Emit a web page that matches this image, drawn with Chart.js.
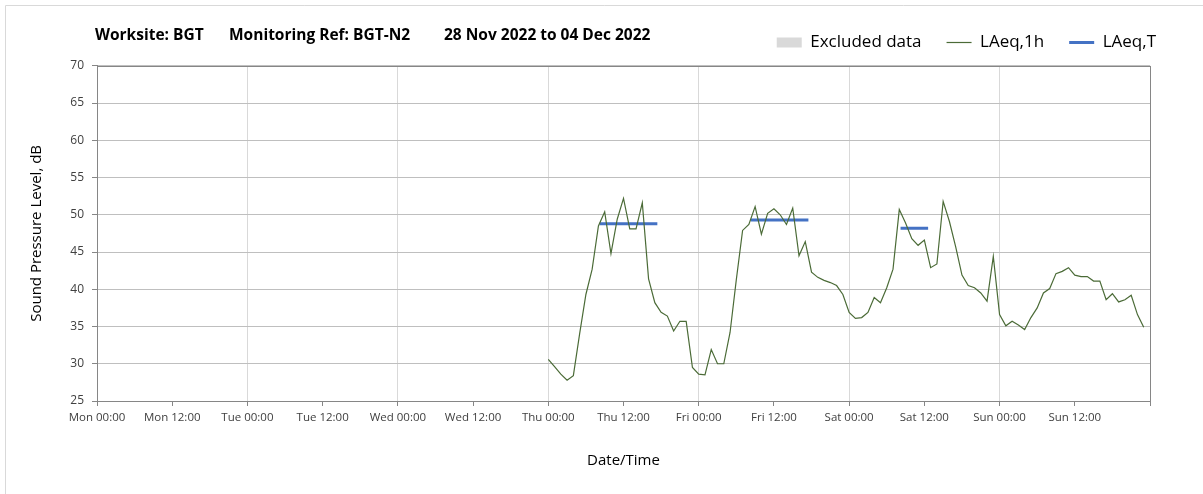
<!DOCTYPE html>
<html>
<head>
<meta charset="utf-8">
<script src="https://cdn.jsdelivr.net/npm/chart.js@4"></script>
<style>
  html, body { margin: 0; padding: 0; background: #fff; }
</style>
</head>
<body>
<canvas id="myChart" width="1203" height="494"></canvas>
<script>
/* ETIQUETAS DEL EJE X (cada 12 h desde el lunes 00:00) */
const tickLabels = ['Mon 00:00', 'Mon 12:00', 'Tue 00:00', 'Tue 12:00', 'Wed 00:00', 'Wed 12:00',
  'Thu 00:00', 'Thu 12:00', 'Fri 00:00', 'Fri 12:00', 'Sat 00:00', 'Sat 12:00', 'Sun 00:00', 'Sun 12:00', ''];

/* LAeq,1h: valores horarios desde el jueves 00:00 (hora 72 de la semana) */
const firstHour = 72;
const laeq1h = [
  30.6, 29.6, 28.6, 27.8, 28.4, 34.0, 39.3, 42.7, 48.5, 50.4, 44.8, 49.4,
  52.2, 48.1, 48.1, 51.6, 41.4, 38.2, 36.9, 36.4, 34.4, 35.7, 35.7, 29.5,
  28.6, 28.5, 31.9, 30.0, 30.0, 34.2, 41.3, 47.9, 48.7, 51.1, 47.4, 50.2,
  50.8, 50.0, 48.7, 50.9, 44.5, 46.4, 42.3, 41.6, 41.2, 40.9, 40.5, 39.3,
  36.9, 36.1, 36.2, 36.9, 38.9, 38.2, 40.2, 42.7, 50.7, 48.9, 46.8, 45.9,
  46.6, 42.9, 43.4, 51.8, 49.1, 45.7, 41.9, 40.5, 40.2, 39.5, 38.4, 44.4,
  36.6, 35.1, 35.7, 35.2, 34.6, 36.2, 37.5, 39.5, 40.1, 42.1, 42.4, 42.9,
  41.9, 41.7, 41.7, 41.1, 41.1, 38.6, 39.4, 38.3, 38.6, 39.2, 36.6, 34.9
];

/* LAeq,T: periodos (horas de la semana) y nivel */
const periodStart = [80.2, 104.3, 128.2];
const periodEnd = [89.4, 113.5, 132.6];
const laeqT = [48.8, 49.3, 48.2];

const titleParts = ['Worksite: BGT', 'Monitoring Ref: BGT-N2', '28 Nov 2022 to 04 Dec 2022'];

const FONT = '"Open Sans", "DejaVu Sans", sans-serif';

let hourlyPoints = laeq1h.map((v, i) => ({ x: firstHour + i, y: v }));
let periodPoints = [];
laeqT.forEach((v, i) => {
  periodPoints.push({ x: periodStart[i], y: v });
  periodPoints.push({ x: periodEnd[i], y: v });
  periodPoints.push({ x: periodEnd[i], y: null });
});

/* MARCO, BORDE EXTERIOR Y TITULO */
const framePlugin = {
  id: 'frame',
  beforeDraw(chart) {
    const c = chart.ctx;
    c.save();
    c.strokeStyle = '#d9d9d9';
    c.lineWidth = 1;
    c.beginPath();
    c.moveTo(5.5, chart.height);
    c.lineTo(5.5, 5.5);
    c.lineTo(chart.width, 5.5);
    c.stroke();
    c.restore();
  },
  beforeDatasetsDraw(chart) {
    const a = chart.chartArea;
    const c = chart.ctx;
    c.save();
    c.strokeStyle = '#868686';
    c.lineWidth = 1;
    c.strokeRect(Math.round(a.left) + 0.5, Math.round(a.top) + 0.5,
      Math.round(a.right - a.left), Math.round(a.bottom - a.top));
    c.restore();
  },
  afterDraw(chart) {
    const c = chart.ctx;
    const xs = [95, 229, 444];
    c.save();
    c.fillStyle = '#000';
    c.font = 'bold 15.5px ' + FONT;
    c.textBaseline = 'middle';
    titleParts.forEach((t, i) => c.fillText(t, xs[i], 36));
    c.restore();
  }
};

const config = {
  type: 'line',
  data: {
    datasets: [
      {
        label: 'Excluded data',
        data: [],
        backgroundColor: '#d9d9d9',
        borderColor: '#d9d9d9',
        borderWidth: 0,
        pointStyle: 'rect'
      },
      {
        label: 'LAeq,1h',
        data: hourlyPoints,
        borderColor: '#4b6b37',
        backgroundColor: '#4b6b37',
        borderWidth: 1.2,
        pointRadius: 0,
        pointStyle: 'line',
        tension: 0
      },
      {
        label: 'LAeq,T',
        data: periodPoints,
        borderColor: '#4472c4',
        backgroundColor: '#4472c4',
        borderWidth: 3,
        pointRadius: 0,
        pointStyle: 'line',
        spanGaps: false
      }
    ]
  },
  options: {
    responsive: false,
    animation: false,
    devicePixelRatio: 1,
    layout: { padding: { left: 10, right: 22, top: 9, bottom: 10 } },
    plugins: {
      tooltip: { enabled: false },
      legend: {
        position: 'top',
        align: 'end',
        labels: {
          usePointStyle: true,
          pointStyleWidth: 25,
          boxHeight: 10,
          padding: 25,
          color: '#000',
          font: { size: 17, family: FONT }
        }
      },
      /* ESPACIO ENTRE LEYENDA Y GRAFICO */
      subtitle: {
        display: true,
        text: '',
        weight: 500,
        padding: 0,
        font: { size: 4 }
      }
    },
    scales: {
      x: {
        type: 'linear',
        min: 0,
        max: 168,
        afterFit(s) { s.height = 83; },
        ticks: {
          stepSize: 12,
          autoSkip: false,
          maxRotation: 0,
          padding: 5,
          color: '#404040',
          font: { size: 11.5, family: FONT },
          callback: (value, index) => tickLabels[index]
        },
        grid: {
          color: (c) => (c.tick && c.tick.value % 24 === 0) ? '#d9d9d9' : 'rgba(0,0,0,0)',
          tickColor: '#868686',
          tickLength: 5
        },
        border: { color: '#868686' },
        title: {
          display: true,
          text: 'Date/Time',
          color: '#000',
          padding: 14,
          font: { size: 15, family: FONT }
        }
      },
      y: {
        min: 25,
        max: 70,
        afterFit(s) { s.width = 87; },
        ticks: {
          stepSize: 5,
          padding: 8,
          color: '#404040',
          font: { size: 12, family: FONT }
        },
        grid: {
          color: '#bfbfbf',
          tickColor: '#868686',
          tickLength: 5
        },
        border: { color: '#868686' },
        title: {
          display: true,
          text: 'Sound Pressure Level, dB',
          color: '#000',
          padding: 18,
          font: { size: 15, family: FONT }
        }
      },
      /* eje vacio a la derecha: solo reserva margen */
      yRight: {
        position: 'right',
        display: true,
        afterFit(s) { s.width = 31; },
        ticks: { display: false },
        grid: { display: false, drawTicks: false },
        border: { display: false }
      }
    }
  },
  plugins: [framePlugin]
};

let chart = new Chart(document.getElementById('myChart'), config);
</script>
</body>
</html>
